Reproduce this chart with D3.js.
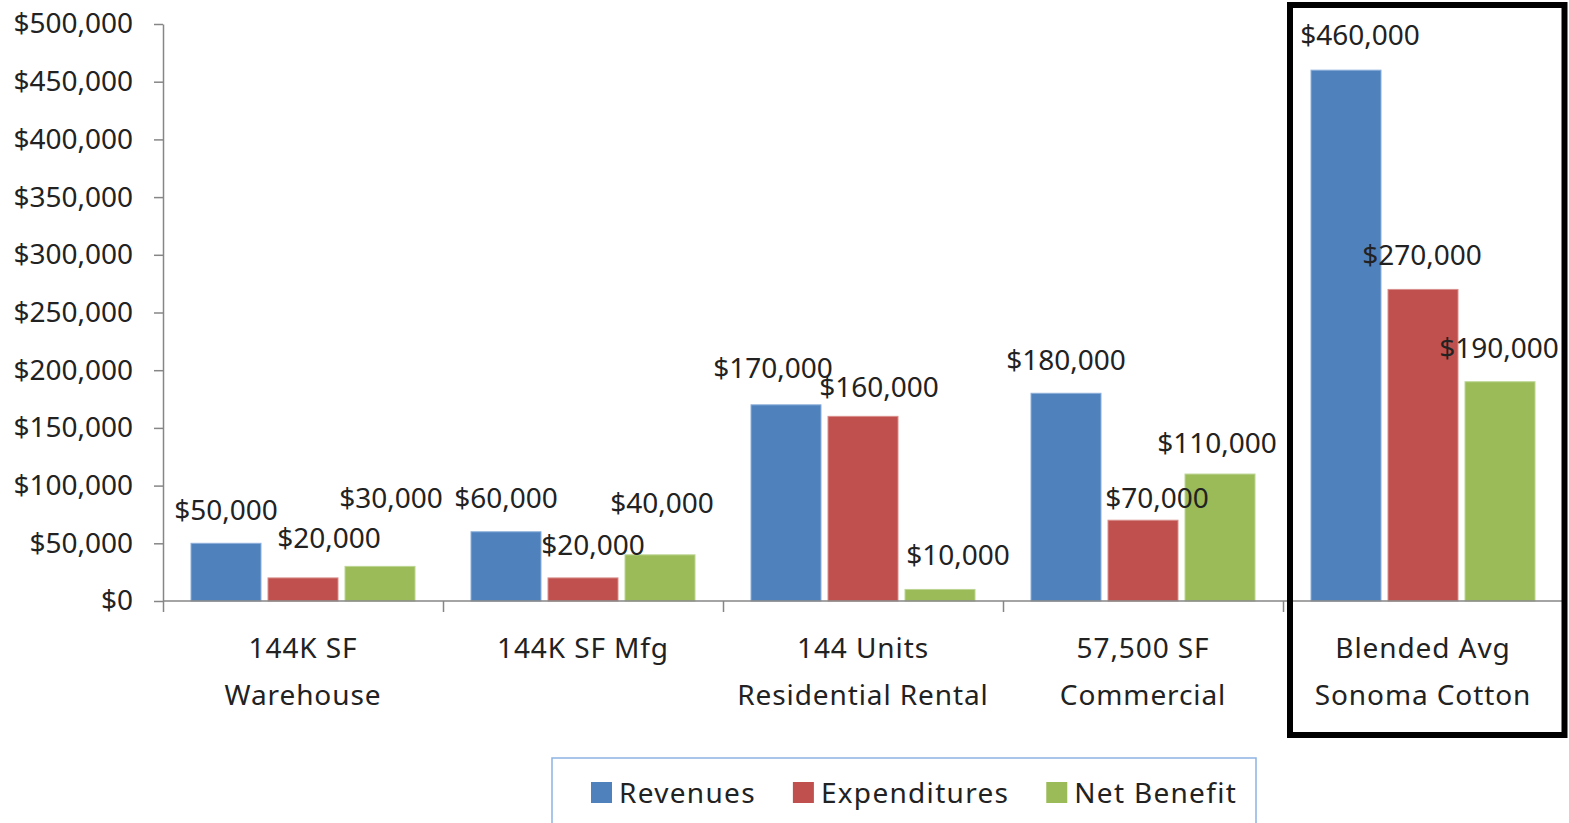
<!DOCTYPE html>
<html>
<head>
<meta charset="utf-8">
<script src="https://cdn.jsdelivr.net/npm/d3@7"></script>
<style>
  html, body { margin: 0; padding: 0; background: #fff; }
  svg { display: block; font-family: "Noto Sans", "Open Sans", sans-serif; }
</style>
</head>
<body>
<div id="chart"></div>
<script>
'use strict';

// Chart data
const categories = [
  ['144K SF', 'Warehouse'],
  ['144K SF Mfg', ''],
  ['144 Units', 'Residential Rental'],
  ['57,500 SF', 'Commercial'],
  ['Blended Avg', 'Sonoma Cotton']
];
const seriesNames = ['Revenues', 'Expenditures', 'Net Benefit'];
const revenues = [50000, 60000, 170000, 180000, 460000];
const expenditures = [20000, 20000, 160000, 70000, 270000];
const netBenefit = [30000, 40000, 10000, 110000, 190000];
const yTicks = [0, 50000, 100000, 150000, 200000, 250000, 300000, 350000, 400000, 450000, 500000];

// Hand placed label nudges (Excel labels were dragged around to avoid overlaps)
const labelNudges = [
  [[0, 0], [26, -7], [11, -35]],
  [[0, -1], [10, 0], [2, -19]],
  [[-13, -4], [16, 4], [18, -1]],
  [[0, 0], [14, 11], [-3, 2]],
  [[14, -2], [-1, -1], [-1, -1]]
];

const colors = ['#4F81BD', '#C0504D', '#9BBB59'];
const edgeColors = ['#8EB0DA', '#D98F8D', '#BCD592'];

const width = 1569;
const height = 823;
const plot = { left: 163, right: 1563, top: 24, bottom: 601 };

const values = [revenues, expenditures, netBenefit];
const rows = categories.map((c, i) => ({
  index: i,
  label: c,
  values: values.map((s, k) => ({ series: k, value: s[i], cat: i }))
}));

const svg = d3.select('#chart').append('svg')
  .attr('width', width)
  .attr('height', height);

// Scales
const x = d3.scaleBand()
  .domain(d3.range(categories.length))
  .range([plot.left, plot.right])
  .paddingInner(0)
  .paddingOuter(0);

const xInner = d3.scaleBand()
  .domain(d3.range(seriesNames.length))
  .range([28, x.bandwidth() - 28])
  .paddingInner(1 / 11)
  .paddingOuter(0);

const y = d3.scaleLinear()
  .domain([0, 500000])
  .range([plot.bottom, plot.top]);

// Y axis
const yAxis = svg.append('g')
  .attr('class', 'y-axis')
  .attr('transform', `translate(${plot.left}, 0)`)
  .call(d3.axisLeft(y)
    .tickValues(yTicks)
    .tickFormat(d3.format('$,'))
    .tickSize(9)
    .tickSizeOuter(0)
    .tickPadding(21));
yAxis.select('.domain').attr('stroke', '#868686').attr('stroke-width', 1.5);
yAxis.selectAll('.tick line').attr('stroke', '#868686').attr('stroke-width', 1.5);
yAxis.selectAll('.tick text')
  .attr('fill', '#222')
  .style('font-size', '28px')
  .style('font-family', '"Noto Sans", sans-serif');

// Bars
const groups = svg.append('g')
  .attr('class', 'bars')
  .selectAll('g')
  .data(rows)
  .enter().append('g')
  .attr('transform', d => `translate(${x(d.index)}, 0)`);

groups.selectAll('rect')
  .data(d => d.values)
  .enter().append('rect')
  .attr('x', d => xInner(d.series))
  .attr('y', d => y(d.value))
  .attr('width', xInner.bandwidth())
  .attr('height', d => y(0) - y(d.value))
  .attr('fill', d => colors[d.series])
  .attr('stroke', d => edgeColors[d.series])
  .attr('stroke-width', 1);

// X axis : ticks sit on category boundaries, not centres
const xEdges = d3.scaleLinear()
  .domain([0, categories.length])
  .range([plot.left, plot.right]);
const xAxis = svg.append('g')
  .attr('class', 'x-axis')
  .attr('transform', `translate(0, ${plot.bottom})`)
  .call(d3.axisBottom(xEdges)
    .tickValues(d3.range(categories.length + 1))
    .tickFormat('')
    .tickSize(11)
    .tickSizeOuter(0));
xAxis.select('.domain').attr('stroke', '#868686').attr('stroke-width', 1.5)
  .attr('d', `M${plot.left},0H${plot.right + 3}`);
xAxis.selectAll('.tick line').attr('stroke', '#868686').attr('stroke-width', 1.5);

// Category labels (two lines each)
const catLabels = svg.append('g')
  .attr('class', 'cat-labels')
  .selectAll('text')
  .data(rows)
  .enter().append('text')
  .attr('text-anchor', 'middle')
  .attr('fill', '#222')
  .style('font-size', '28px')
  .style('letter-spacing', '0.9px');
catLabels.append('tspan')
  .attr('x', d => x(d.index) + x.bandwidth() / 2)
  .attr('y', 658)
  .text(d => d.label[0]);
catLabels.append('tspan')
  .attr('x', d => x(d.index) + x.bandwidth() / 2)
  .attr('y', 705)
  .text(d => d.label[1]);

// Value labels above bars
groups.selectAll('text.value')
  .data(d => d.values)
  .enter().append('text')
  .attr('class', 'value')
  .attr('text-anchor', 'middle')
  .attr('fill', '#222')
  .style('font-size', '28px')
  .attr('x', d => xInner(d.series) + xInner.bandwidth() / 2 + labelNudges[d.cat][d.series][0])
  .attr('y', d => y(d.value) - 23 + labelNudges[d.cat][d.series][1])
  .text(d => d3.format('$,')(d.value));

// Highlight box around the last category
const last = categories.length - 1;
svg.append('rect')
  .attr('class', 'highlight')
  .attr('x', x(last) + 7)
  .attr('y', 5)
  .attr('width', x.bandwidth() - 5.5)
  .attr('height', 730)
  .attr('fill', 'none')
  .attr('stroke', '#000')
  .attr('stroke-width', 6);

// Legend
const legend = svg.append('g')
  .attr('class', 'legend')
  .attr('transform', 'translate(552, 758)');
legend.append('rect')
  .attr('width', 704)
  .attr('height', 120)
  .attr('fill', '#fff')
  .attr('stroke', '#8DB3E2')
  .attr('stroke-width', 1.5);

let cursor = 39;
seriesNames.forEach((name, i) => {
  const item = legend.append('g').attr('transform', `translate(${cursor}, 0)`);
  item.append('rect')
    .attr('x', 0)
    .attr('y', 24)
    .attr('width', 21)
    .attr('height', 21)
    .attr('fill', colors[i]);
  const label = item.append('text')
    .attr('x', 28)
    .attr('y', 45)
    .attr('fill', '#222')
    .style('font-size', '28px')
    .style('letter-spacing', '1.3px')
    .text(name);
  cursor += 28 + label.node().getComputedTextLength() + 37;
});
</script>
</body>
</html>
